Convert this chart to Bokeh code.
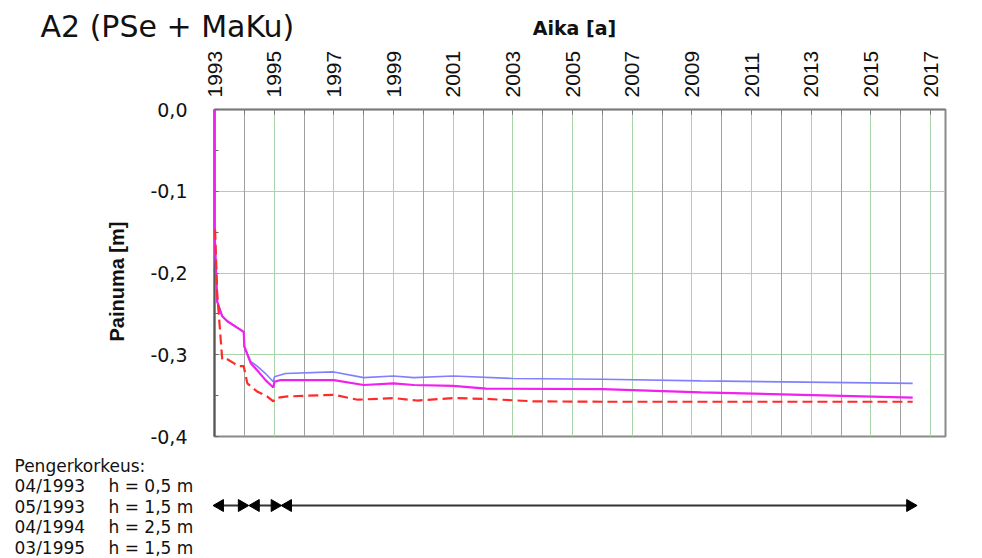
import math

from bokeh.core.properties import value
from bokeh.embed import file_html
from bokeh.layouts import column, row
from bokeh.models import FixedTicker, Grid, Range1d
from bokeh.plotting import figure
from bokeh.resources import INLINE

# --- settlement curves (year, settlement in metres) -------------------------
blue_years = [1993.0, 1993.0, 1993.09, 1993.26, 1993.43, 1993.98, 1994.0,
              1994.21, 1994.43, 1994.71, 1994.97, 1995.01, 1995.38, 1997.0,
              1998.0, 1999.0, 1999.68, 2001.0, 2003.0, 2006.0, 2009.3, 2016.4]
blue_vals = [0.0, -0.147, -0.235, -0.253, -0.259, -0.272, -0.29,
             -0.308, -0.314, -0.323, -0.333, -0.327, -0.323, -0.321,
             -0.328, -0.326, -0.328, -0.326, -0.329, -0.330, -0.332, -0.335]

magenta_years = [1993.0, 1993.0, 1993.09, 1993.26, 1993.43, 1993.98, 1994.0,
                 1994.21, 1994.43, 1994.71, 1994.97, 1995.01, 1995.21, 1997.0,
                 1998.0, 1999.0, 1999.68, 2001.0, 2002.1, 2006.0, 2009.3, 2016.4]
magenta_vals = [0.0, -0.147, -0.235, -0.253, -0.259, -0.272, -0.29,
                -0.31, -0.319, -0.331, -0.340, -0.333, -0.331, -0.331,
                -0.337, -0.335, -0.337, -0.338, -0.3415, -0.342, -0.346, -0.3525]

red_years = [1993.02, 1993.09, 1993.26, 1993.41, 1993.63, 1993.8, 1993.98,
             1994.1, 1994.43, 1994.76, 1994.97, 1995.05, 1995.45, 1997.0,
             1997.8, 1999.0, 1999.8, 2001.0, 2002.1, 2003.7, 2006.0, 2016.4]
red_vals = [-0.147, -0.225, -0.306, -0.305, -0.31, -0.314, -0.314,
            -0.335, -0.345, -0.351, -0.357, -0.353, -0.351, -0.349,
            -0.355, -0.353, -0.356, -0.353, -0.354, -0.357, -0.3575, -0.3575]

# --- axes ---------------------------------------------------------------------
year_labels = [str(y) for y in range(1993, 2018, 2)]
year_ticks = [float(y) for y in range(1993, 2018, 2)]
all_years = [float(y) for y in range(1993, 2018)]
even_years = [float(y) for y in range(1994, 2017, 2)]
depth_ticks = [0.0, -0.1, -0.2, -0.3, -0.4]
depth_labels = ["0,0", "-0,1", "-0,2", "-0,3", "-0,4"]
depth_minor = [-0.05, -0.15, -0.25, -0.35]

# --- embankment stages ---------------------------------------------------------
fill_dates = ["04/1993", "05/1993", "04/1994", "03/1995"]
fill_heights = ["0,5", "1,5", "2,5", "1,5"]
stage_start = [1993.0, 1994.2, 1995.28]
stage_end = [1994.1, 1995.2, 2016.5]

# --- page geometry ----------------------------------------------------------
W, H = 982, 558
HEAD_H = 45            # heading strip
FOOT_H = 112           # embankment table strip
SIDE_W = 140           # strip holding the vertical axis title
MAIN_H = H - HEAD_H - FOOT_H
FRAME_L, FRAME_R, FRAME_T, FRAME_B = 214, 945, 109, 436
X0, X1 = 1993.0, 2017.5
Y0, Y1 = -0.4, 0.0
PX_PER_YEAR = (FRAME_R - FRAME_L) / (X1 - X0)


def year_at(px):
    """page pixel column -> year on the shared time scale"""
    return X0 + (px - FRAME_L) / PX_PER_YEAR


FONT = "DejaVu Sans"
INK = "#111111"
TOP_TO_BASE = 0.73   # distance from a "top"-anchored text's anchor to its baseline, per px of size


def strip(width, height, top):
    """bare figure whose frame fills the canvas; x in years, y in page rows"""
    f = figure(width=width, height=height,
               x_range=Range1d(year_at(0), year_at(width)),
               y_range=Range1d(top + height, top),
               x_axis_location=None, y_axis_location=None,
               output_backend="svg", toolbar_location=None,
               min_border=0, outline_line_color=None)
    f.grid.visible = False
    f.background_fill_color = "white"
    f.border_fill_color = "white"
    return f


# heading strip (texts anchored at their top edge)
head = strip(W, HEAD_H, 0)
head.text(x=[year_at(40)], y=[30.0 - TOP_TO_BASE * 30], text=["A2 (PSe + MaKu)"],
          text_font=value(FONT), text_font_size=value("30px"), text_color=INK,
          text_align="left", text_baseline="top")
head.text(x=[year_at(574)], y=[30.0 - TOP_TO_BASE * 19], text=["Aika [a]"],
          text_font=value(FONT), text_font_size=value("19px"),
          text_font_style=value("bold"), text_color=INK,
          text_align="center", text_baseline="top")

# side strip with the settlement axis title
side = figure(width=SIDE_W, height=MAIN_H, x_range=Range1d(0, SIDE_W),
              y_range=Range1d(HEAD_H + MAIN_H, HEAD_H),
              x_axis_location=None, y_axis_location=None,
              output_backend="svg", toolbar_location=None,
              min_border=0, outline_line_color=None)
side.grid.visible = False
side.text(x=[116], y=[256], text=["Painuma [m]"], angle=math.pi / 2,
          text_font=value("Liberation Sans"), text_font_size=value("20px"),
          text_font_style=value("bold"), text_color=INK,
          text_align="center", text_baseline="middle")

# main settlement chart
p = figure(width=W - SIDE_W, height=MAIN_H, x_range=Range1d(X0, X1),
           y_range=Range1d(Y0, Y1), x_axis_location="above",
           output_backend="svg", toolbar_location=None)
p.min_border_left = FRAME_L - SIDE_W
p.min_border_right = W - FRAME_R
p.min_border_top = FRAME_T - HEAD_H
p.min_border_bottom = HEAD_H + MAIN_H - FRAME_B
p.background_fill_color = "white"
p.border_fill_color = "white"
p.outline_line_color = "#8a8a8a"
p.outline_line_width = 2

ax = p.xaxis[0]
ax.ticker = FixedTicker(ticks=year_ticks, minor_ticks=all_years)
ax.major_label_overrides = {t: l for t, l in zip(year_ticks, year_labels)}
ax.major_label_orientation = math.pi / 2
ax.major_label_text_font = "Liberation Sans"
ax.major_label_text_font_size = "21px"
ax.major_label_text_color = INK
ax.major_label_standoff = 12
ax.major_tick_in = 5
ax.major_tick_out = 0
ax.minor_tick_in = 5
ax.minor_tick_out = 0
ax.major_tick_line_color = "#7a7a7a"
ax.minor_tick_line_color = "#7a7a7a"
ax.axis_line_color = "#7a7a7a"
ax.axis_line_width = 1.5

ay = p.yaxis[0]
ay.ticker = FixedTicker(ticks=depth_ticks, minor_ticks=depth_minor)
ay.major_label_overrides = {t: l for t, l in zip(depth_ticks, depth_labels)}
ay.major_label_text_font = FONT
ay.major_label_text_font_size = "19px"
ay.major_label_text_color = INK
ay.major_label_standoff = 27
ay.major_tick_in = 4
ay.major_tick_out = 0
ay.minor_tick_in = 4
ay.minor_tick_out = 0
ay.major_tick_line_color = "#666666"
ay.minor_tick_line_color = "#666666"
ay.axis_line_color = "#555555"
ay.axis_line_width = 2

# grid: green on odd years and every 0.1 m, grey on even years
p.xgrid.ticker = FixedTicker(ticks=year_ticks[1:])
p.xgrid.grid_line_color = "#a9d3a9"
p.add_layout(Grid(dimension=0, ticker=FixedTicker(ticks=even_years),
                  grid_line_color="#a0a0a0", grid_line_width=1))
p.ygrid.ticker = FixedTicker(ticks=depth_ticks[1:-1])
p.ygrid.grid_line_color = "#a9d3a9"

# curves drawn above the axis line so the initial drop stays visible
p.line(blue_years, blue_vals, line_color="#8080ff", line_width=1.6, level="overlay")
p.line(magenta_years, magenta_vals, line_color="#f020f0", line_width=2.2, level="overlay")
p.line(red_years, red_vals, line_color="#ff2a2a", line_width=2.2, line_dash="10 5",
       level="overlay")

# embankment table strip (rows anchored at their top edge)
foot_top = H - FOOT_H
foot = strip(W, FOOT_H, foot_top)
row0 = 467.5 - TOP_TO_BASE * 17
step = 20.5
col_x = [year_at(14)] + [year_at(14)] * len(fill_dates) + [year_at(108)] * len(fill_dates)
col_y = [row0] + [row0 + step * (i + 1) for i in range(len(fill_dates))] * 2
col_t = ["Pengerkorkeus:"] + fill_dates + [f"h = {h} m" for h in fill_heights]
foot.text(x=col_x, y=col_y, text=col_t, text_font=value(FONT),
          text_font_size=value("17px"), text_color=INK,
          text_align="left", text_baseline="top")

# loading periods as double-headed arrows
arrow_row = 505
head_len = 5.5 / PX_PER_YEAR
foot.segment(x0=stage_start, y0=[arrow_row] * 3, x1=stage_end, y1=[arrow_row] * 3,
             line_color="#333333", line_width=2)
foot.scatter(x=[s + head_len for s in stage_start], y=[arrow_row] * 3,
             marker="triangle", size=12, angle=math.pi / 2,
             fill_color="black", line_color="black")
foot.scatter(x=[e - head_len for e in stage_end], y=[arrow_row] * 3,
             marker="triangle", size=12, angle=-math.pi / 2,
             fill_color="black", line_color="black")

page = column(head, row(side, p), foot)
open("out.html", "w").write(file_html(page, INLINE))
